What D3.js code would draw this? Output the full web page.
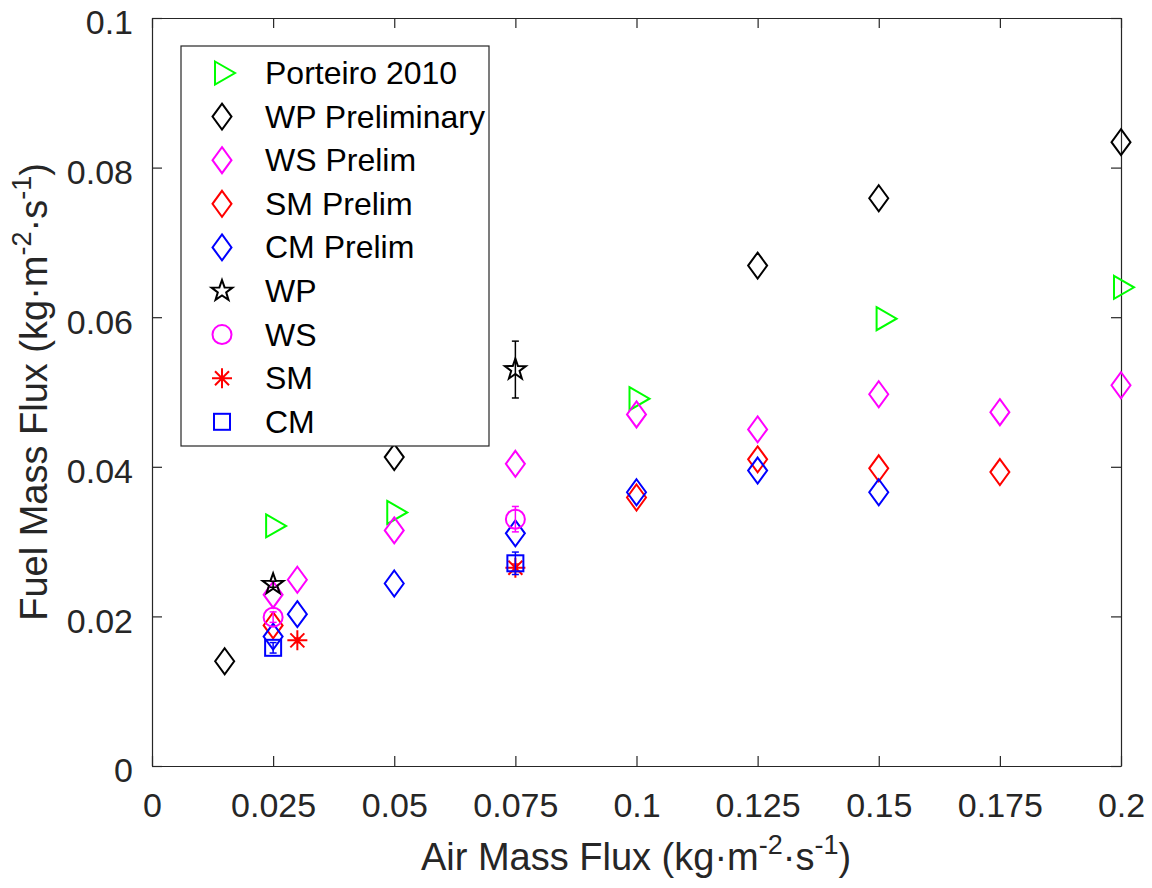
<!DOCTYPE html>
<html>
  <head>
    <meta charset="utf-8">
    <script src="https://d3js.org/d3.v7.min.js"></script>
    <style>
    body {
      margin: 0;
      background: #fff;
    }

    svg text {
      font-family: "Liberation Sans", Arial, Helvetica, sans-serif;
      fill: #262626;
    }
  </style>
  </head>
  <body>
    <svg id="chart" width="1152" height="888"></svg>
    <script>
    // tick labels
    var xTicks = [0, 0.025, 0.05, 0.075, 0.1, 0.125, 0.15, 0.175, 0.2];
    var xTickLabels = ["0", "0.025", "0.05", "0.075", "0.1", "0.125", "0.15", "0.175", "0.2"];
    var yTicks = [0, 0.02, 0.04, 0.06, 0.08, 0.1];
    var yTickLabels = ["0", "0.02", "0.04", "0.06", "0.08", "0.1"];

    // series values (air mass flux, fuel mass flux)
    var porteiroX = [0.025, 0.05, 0.1, 0.151, 0.2];
    var porteiroY = [0.0321, 0.0339, 0.0491, 0.0598, 0.0640];

    var wpPrelimX = [0.015, 0.05, 0.125, 0.15, 0.2];
    var wpPrelimY = [0.0140, 0.0413, 0.0669, 0.0759, 0.0834];

    var wsPrelimX = [0.025, 0.03, 0.05, 0.075, 0.1, 0.125, 0.15, 0.175, 0.2];
    var wsPrelimY = [0.0229, 0.0249, 0.0315, 0.0404, 0.0470, 0.0450, 0.0497, 0.0473, 0.0509];

    var smPrelimX = [0.025, 0.1, 0.125, 0.15, 0.175];
    var smPrelimY = [0.0188, 0.0359, 0.0410, 0.0398, 0.0393];

    var cmPrelimX = [0.025, 0.03, 0.05, 0.075, 0.1, 0.125, 0.15];
    var cmPrelimY = [0.0173, 0.0203, 0.0244, 0.0311, 0.0366, 0.0395, 0.0366];

    var wpX = [0.025, 0.075];
    var wpY = [0.0243, 0.0530];
    var wpErr = [0.0004, 0.0038];

    var wsX = [0.025, 0.075];
    var wsY = [0.0199, 0.0330];
    var wsErr = [0.0007, 0.0017];

    var smX = [0.03, 0.075];
    var smY = [0.0168, 0.0265];
    var smErr = [0.0003, 0.0005];

    var cmX = [0.025, 0.075];
    var cmY = [0.0158, 0.0271];
    var cmErr = [0.0007, 0.0015];

    var series = [
      {name: "Porteiro 2010", marker: "triangle", color: "#00ff00", x: porteiroX, y: porteiroY},
      {name: "WP Preliminary", marker: "diamond", color: "#000000", x: wpPrelimX, y: wpPrelimY},
      {name: "WS Prelim", marker: "diamond", color: "#ff00ff", x: wsPrelimX, y: wsPrelimY},
      {name: "SM Prelim", marker: "diamond", color: "#ff0000", x: smPrelimX, y: smPrelimY},
      {name: "CM Prelim", marker: "diamond", color: "#0000ff", x: cmPrelimX, y: cmPrelimY},
      {name: "WP", marker: "star", color: "#000000", x: wpX, y: wpY, err: wpErr},
      {name: "WS", marker: "circle", color: "#ff00ff", x: wsX, y: wsY, err: wsErr},
      {name: "SM", marker: "asterisk", color: "#ff0000", x: smX, y: smY, err: smErr},
      {name: "CM", marker: "square", color: "#0000ff", x: cmX, y: cmY, err: cmErr}
    ];

    var svg = d3.select("#chart");
    var plotLeft = 152, plotRight = 1121, plotTop = 18, plotBottom = 766;

    var x = d3.scaleLinear().domain([0, 0.2]).range([plotLeft, plotRight]);
    var y = d3.scaleLinear().domain([0, 0.1]).range([plotBottom, plotTop]);

    var axisColor = "#262626";

    function styleAxis(g) {
      g.selectAll("path.domain").attr("stroke", axisColor).attr("stroke-width", 1.2);
      g.selectAll(".tick line").attr("stroke", axisColor).attr("stroke-width", 1.2);
      g.selectAll(".tick text").attr("fill", axisColor);
    }

    // bottom axis
    var gx = svg.append("g")
      .attr("transform", "translate(0," + plotBottom + ")")
      .call(d3.axisBottom(x).tickValues(xTicks)
        .tickFormat(function (d, i) { return xTickLabels[i]; })
        .tickSizeInner(-10).tickSizeOuter(0).tickPadding(27));
    gx.attr("font-size", 34).attr("font-family", null);
    styleAxis(gx);

    // left axis
    var gy = svg.append("g")
      .attr("transform", "translate(" + plotLeft + ",0)")
      .call(d3.axisLeft(y).tickValues(yTicks)
        .tickFormat(function (d, i) { return yTickLabels[i]; })
        .tickSizeInner(-10).tickSizeOuter(0).tickPadding(19));
    gy.attr("font-size", 34).attr("font-family", null);
    gy.selectAll(".tick text").attr("dy", "0.47em");
    styleAxis(gy);

    // top and right axes, ticks only
    var gt = svg.append("g")
      .attr("transform", "translate(0," + plotTop + ")")
      .call(d3.axisTop(x).tickValues(xTicks).tickFormat("")
        .tickSizeInner(-10).tickSizeOuter(0));
    styleAxis(gt);

    var gr = svg.append("g")
      .attr("transform", "translate(" + plotRight + ",0)")
      .call(d3.axisRight(y).tickValues(yTicks).tickFormat("")
        .tickSizeInner(-10).tickSizeOuter(0));
    styleAxis(gr);

    // axis labels
    function addLabel(text, base) {
      text.append("tspan").text(base + " (kg\u00b7m");
      text.append("tspan").attr("font-size", 27).attr("dy", -16).text("-2");
      text.append("tspan").attr("dy", 16).text("\u00b7s");
      text.append("tspan").attr("font-size", 27).attr("dy", -16).text("-1");
      text.append("tspan").attr("dy", 16).text(")");
    }

    var xLabel = svg.append("text")
      .attr("x", 636)
      .attr("y", 870)
      .attr("text-anchor", "middle")
      .attr("font-size", 38);
    addLabel(xLabel, "Air Mass Flux");

    var yLabel = svg.append("text")
      .attr("transform", "translate(47,392) rotate(-90)")
      .attr("text-anchor", "middle")
      .attr("font-size", 38);
    addLabel(yLabel, "Fuel Mass Flux");

    // markers
    function starPath(ro, ri) {
      var pts = [];
      for (var k = 0; k < 10; k++) {
        var r = k % 2 == 0 ? ro : ri;
        var a = -Math.PI / 2 + k * Math.PI / 5;
        pts.push([r * Math.cos(a), r * Math.sin(a)]);
      }
      return "M" + pts.map(function (p) { return p[0].toFixed(2) + "," + p[1].toFixed(2); }).join("L") + "Z";
    }

    function drawMarker(g, type, color) {
      var s = g.append("g")
        .attr("fill", "none")
        .attr("stroke", color)
        .attr("stroke-width", 2);
      if (type == "diamond") {
        s.append("path").attr("d", "M0,-13L9.5,0L0,13L-9.5,0Z");
      } else if (type == "triangle") {
        s.append("path").attr("d", "M-7,-11.5L13,0L-7,11.5Z");
      } else if (type == "star") {
        s.append("path").attr("d", starPath(11, 4.4));
      } else if (type == "circle") {
        s.append("circle").attr("r", 9.5);
      } else if (type == "asterisk") {
        s.append("path").attr("d", "M-10,0L10,0M0,-10L0,10M-7,-7L7,7M-7,7L7,-7");
      } else if (type == "square") {
        s.append("rect").attr("x", -8).attr("y", -8).attr("width", 16).attr("height", 16);
      }
      return s;
    }

    var plot = svg.append("g");

    series.forEach(function (s) {
      var pts = s.x.map(function (v, i) {
        return {x: v, y: s.y[i], e: s.err ? s.err[i] : null};
      });
      var grp = plot.append("g");

      if (s.err) {
        pts.forEach(function (p) {
          var e = grp.append("g")
            .attr("stroke", s.color)
            .attr("stroke-width", 1.5);
          e.append("line")
            .attr("x1", x(p.x)).attr("x2", x(p.x))
            .attr("y1", y(p.y - p.e)).attr("y2", y(p.y + p.e));
          e.append("line")
            .attr("x1", x(p.x) - 3.5).attr("x2", x(p.x) + 3.5)
            .attr("y1", y(p.y - p.e)).attr("y2", y(p.y - p.e));
          e.append("line")
            .attr("x1", x(p.x) - 3.5).attr("x2", x(p.x) + 3.5)
            .attr("y1", y(p.y + p.e)).attr("y2", y(p.y + p.e));
        });
      }

      pts.forEach(function (p) {
        drawMarker(grp, s.marker, s.color)
          .attr("transform", "translate(" + x(p.x) + "," + y(p.y) + ")");
      });
    });

    // legend
    var legend = svg.append("g");
    legend.append("rect")
      .attr("x", 181).attr("y", 46)
      .attr("width", 308).attr("height", 400)
      .attr("fill", "#fff")
      .attr("stroke", axisColor)
      .attr("stroke-width", 1.2);

    series.forEach(function (s, i) {
      var cy = 73 + i * 43.6;
      drawMarker(legend, s.marker, s.color)
        .attr("transform", "translate(222," + cy + ")");
      legend.append("text")
        .attr("x", 265)
        .attr("y", cy + 11)
        .attr("font-size", 32)
        .style("fill", "#000")
        .text(s.name);
    });
  </script>
  </body>
</html>
